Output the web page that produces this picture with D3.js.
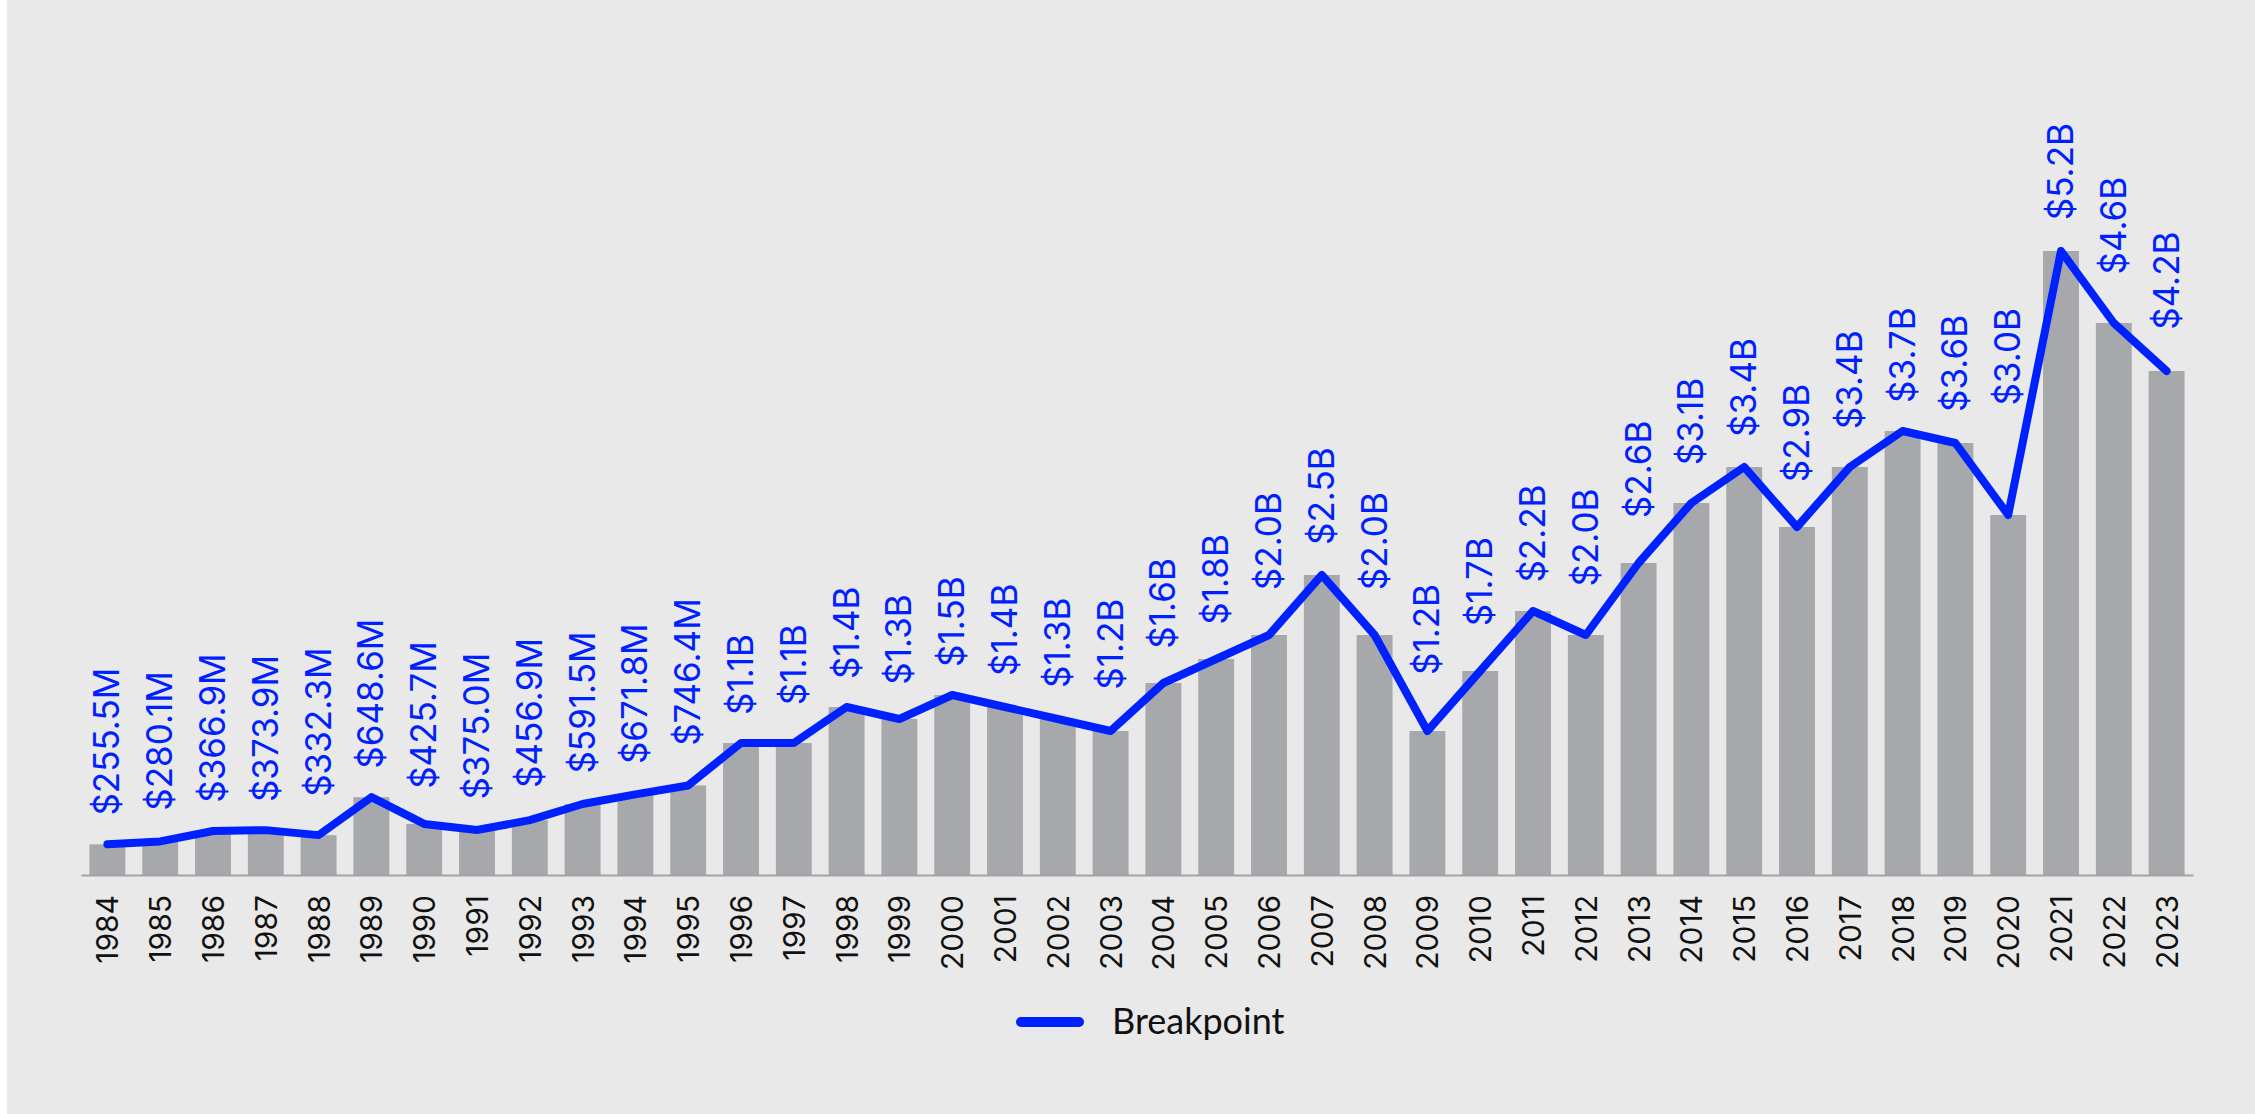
<!DOCTYPE html>
<html>
<head>
<meta charset="utf-8">
<script src="https://cdn.jsdelivr.net/npm/d3@7/dist/d3.min.js"></script>
<style>
  body { margin: 0; background: #fff; }
  svg { display: block; }
</style>
</head>
<body>
<svg id="chart" width="2255" height="1114"></svg>
<script>
// Yearly values, in millions of dollars
const years = ["1984","1985","1986","1987","1988","1989","1990","1991","1992","1993",
  "1994","1995","1996","1997","1998","1999","2000","2001","2002","2003",
  "2004","2005","2006","2007","2008","2009","2010","2011","2012","2013",
  "2014","2015","2016","2017","2018","2019","2020","2021","2022","2023"];
const breakpoint = [255.5, 280.1, 366.9, 373.9, 332.3, 648.6, 425.7, 375.0, 456.9, 591.5,
  671.8, 746.4, 1100, 1100, 1400, 1300, 1500, 1400, 1300, 1200,
  1600, 1800, 2000, 2500, 2000, 1200, 1700, 2200, 2000, 2600,
  3100, 3400, 2900, 3400, 3700, 3600, 3000, 5200, 4600, 4200];
const seriesName = "Breakpoint";

const blue = "#0021ff";
const data = years.map((yr, i) => ({ year: yr, value: breakpoint[i] }));

const svg = d3.select("#chart");

// grey panel (thin white strip on the left like the original)
svg.append("rect")
  .attr("x", 7).attr("y", 0)
  .attr("width", 2248).attr("height", 1114)
  .attr("fill", "#e9e9e9");

const x = d3.scaleBand()
  .domain(years)
  .range([81, 2193])
  .paddingInner(0.32)
  .paddingOuter(0.16);

const y = d3.scaleLinear()
  .domain([0, 5200])
  .range([875, 251]);

const cx = d => x(d.year) + x.bandwidth() / 2;

// bars
svg.append("g")
  .selectAll("rect")
  .data(data)
  .join("rect")
  .attr("x", d => x(d.year))
  .attr("y", d => y(d.value))
  .attr("width", x.bandwidth())
  .attr("height", d => y(0) - y(d.value))
  .attr("fill", "#a7a8ab");

// x axis
const xAxis = svg.append("g")
  .attr("transform", "translate(0," + y(0) + ")")
  .call(d3.axisBottom(x).tickSize(0).tickSizeOuter(0));

xAxis.select(".domain")
  .attr("stroke", "#a3a3a3")
  .attr("stroke-width", 2);

xAxis.selectAll(".tick text")
  .attr("x", null)
  .attr("y", null)
  .attr("dy", null)
  .attr("transform", "translate(11,20) rotate(-90)")
  .attr("text-anchor", "end")
  .attr("fill", "#111")
  .style("font-family", "Inter, sans-serif")
  .style("font-size", "30px");

// line
const line = d3.line()
  .x(cx)
  .y(d => y(d.value));

svg.append("path")
  .datum(data)
  .attr("d", line)
  .attr("fill", "none")
  .attr("stroke", blue)
  .attr("stroke-width", 8)
  .attr("stroke-linejoin", "round")
  .attr("stroke-linecap", "round");

// value labels: sit above the line where it passes under them
function lineTop(px) {
  let best = null;
  for (let i = 0; i < data.length - 1; i++) {
    const x0 = cx(data[i]), x1 = cx(data[i + 1]);
    if (px >= x0 && px <= x1) {
      const y0 = y(data[i].value), y1 = y(data[i + 1].value);
      const s = (y1 - y0) / (x1 - x0);
      best = y0 + s * (px - x0) - 4 * Math.sqrt(1 + s * s);
    }
  }
  if (best === null) {
    const d = px < cx(data[0]) ? data[0] : data[data.length - 1];
    best = y(d.value) - 4;
  }
  return best;
}

function fmt(v) {
  return v < 1000 ? "$" + v.toFixed(1) + "M" : "$" + (v / 1000).toFixed(1) + "B";
}

svg.append("g")
  .selectAll("text")
  .data(data)
  .join("text")
  .attr("transform", d => {
    const c = cx(d);
    const top = Math.min(lineTop(c - 13), lineTop(c), lineTop(c + 13));
    return "translate(" + (c + 12) + "," + (top - 24) + ") rotate(-90)";
  })
  .attr("text-anchor", "start")
  .attr("fill", blue)
  .style("font-family", "Inter, sans-serif")
  .style("font-size", "35px")
  .text(d => fmt(d.value));

// legend
const legend = svg.append("g");
legend.append("line")
  .attr("x1", 1021).attr("x2", 1079)
  .attr("y1", 1022).attr("y2", 1022)
  .attr("stroke", blue)
  .attr("stroke-width", 10)
  .attr("stroke-linecap", "round");
legend.append("text")
  .attr("x", 1112)
  .attr("y", 1034)
  .attr("fill", "#111")
  .style("font-family", "Lato, sans-serif")
  .style("font-size", "36px")
  .text(seriesName);
</script>
</body>
</html>
